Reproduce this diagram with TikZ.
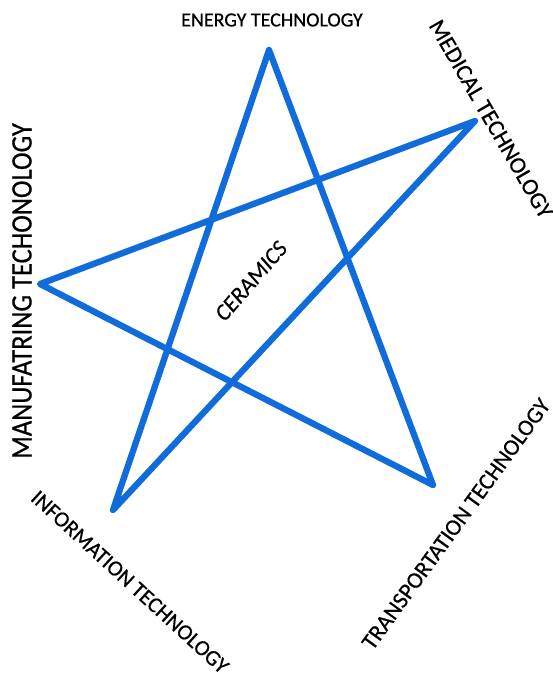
\documentclass[tikz,border=0pt]{standalone}
\usepackage{fontspec}
\setmainfont{Carlito}[FakeBold=0.6]
\definecolor{starblue}{RGB}{15,108,218}
\tikzset{
  starline/.style={draw=starblue, line width=6.3pt, line join=round, line cap=round},
  lbl/.style={inner sep=0pt, text=black, anchor=center}
}
\begin{document}
\begin{tikzpicture}[x=1pt,y=-1pt]
\useasboundingbox (0,0) rectangle (552,677);
\coordinate (top) at (269,50);
\coordinate (rgt) at (475,121);
\coordinate (lft) at (40,284);
\coordinate (bl) at (113,510);
\coordinate (br) at (433,485);
\draw[starline] (top) -- (bl) -- (rgt) -- (lft) -- (br) -- cycle;
\node[lbl, font=\fontsize{20}{24}\selectfont] (energy) at (272,20) {ENERGY TECHNOLOGY};
\node[lbl, rotate=-60, font=\fontsize{23.5}{28}\selectfont] (medical) at (491,119) {MEDICAL TECHNOLOGY};
\node[lbl, rotate=90, font=\fontsize{26.5}{30}\selectfont] (manuf) at (22,291) {\scalebox{1}[1.12]{MANUFATRING TECHONOLOGY}};
\node[lbl, rotate=-42.5, font=\fontsize{22}{26}\selectfont] (info) at (130,582) {INFORMATION TECHNOLOGY};
\node[lbl, rotate=54, font=\fontsize{23}{27}\selectfont] (transp) at (456,524) {TRANSPORTATION TECHNOLOGY};
\node[lbl, rotate=49, font=\fontsize{23}{27}\selectfont\itshape] (ceramics) at (251,281) {CERAMICS};
\end{tikzpicture}
\end{document}
